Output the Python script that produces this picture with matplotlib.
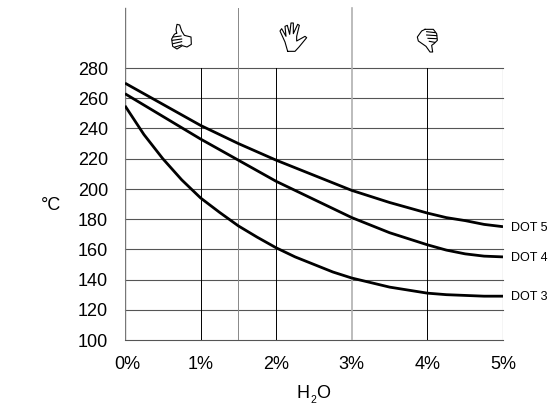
import matplotlib
matplotlib.use("Agg")
import matplotlib.pyplot as plt

plt.rcParams['font.family'] = ['Liberation Sans', 'DejaVu Sans']

water = [0, 0.25, 0.5, 0.75, 1, 1.25, 1.5, 1.75, 2, 2.25, 2.5, 2.75, 3, 3.25, 3.5, 3.75, 4, 4.25, 4.5, 4.75, 5]
dot3 = [255, 236, 220, 206, 194, 184.5, 175.5, 168, 161, 155, 150, 145, 141, 138, 135, 133, 131, 130, 129.5, 129, 129]
dot4 = [263, 255.5, 248, 240.5, 233, 226, 219, 212, 205, 199, 193, 187, 181, 176, 171, 167, 163, 159.5, 157, 155.5, 155]
dot5 = [270, 263, 256, 249, 242, 236, 230, 224.5, 219, 214, 209, 204, 199, 195, 191, 187.5, 184, 181, 179, 176.5, 175]
curveNames = ['DOT 3', 'DOT 4', 'DOT 5']
yTicks = [100, 120, 140, 160, 180, 200, 220, 240, 260, 280]
xTicks = [0, 1, 2, 3, 4, 5]

thumbUp = [(35, 48), (33, 38), (36, 22), (44, 24), (50, 42), (58, 55), (78, 60), (79, 82), (66, 90), (52, 86),
           (36, 96), (23, 88), (20, 66), (28, 52), (35, 48)]
thumbUpLines = [[(24, 60), (48, 57)], [(22, 70), (50, 66)], [(24, 80), (50, 74)], [(30, 90), (50, 84)]]
openHand = [(38, 103), (30, 75), (15, 42), (20, 35), (33, 58), (30, 28), (37, 25), (44, 52), (48, 18), (55, 18),
            (55, 50), (68, 22), (73, 25), (65, 58), (65, 72), (90, 58), (95, 62), (72, 90), (60, 103), (38, 103)]
thumbDown = [(45, 37), (70, 37), (80, 50), (82, 70), (72, 80), (65, 85), (68, 105), (60, 105), (48, 88), (25, 72),
             (22, 60), (35, 42), (45, 37)]
thumbDownLines = [[(50, 44), (76, 47)], [(50, 54), (80, 56)], [(54, 64), (80, 65)], [(58, 73), (74, 76)]]

W, H = 553, 406
fig = plt.figure(figsize=(W / 100, H / 100), dpi=100)
ax = fig.add_axes([125 / W, 1 - 341 / H, (503 - 125) / W, (341 - 8) / H])
ax.set_xlim(0, 5)
ax.set_ylim(100, 100 + 333 / 1.511)
ax.axis('off')

for y in yTicks:
    ax.plot([0, 5], [y, y], color='#555555', lw=0.8, clip_on=False)
    ax.text(-0.225, y - 0.8, str(y), ha='right', va='center', fontsize=13)
for x in xTicks:
    ax.text(x + (0.03 if x == 0 else 0), 90, '%d%%' % x, ha='center', va='top', fontsize=13)
for x in [1, 2, 4]:
    ax.plot([x, x], [100, 280], color='black', lw=0.7)
ax.plot([5, 5], [100, 280], color='#555555', lw=0.8)
ax.plot([0, 0], [100, 320], color='#777777', lw=1.0)
ax.plot([1.5, 1.5], [100, 320], color='#888888', lw=0.7)
ax.plot([3, 3], [100, 320], color='#b0b0b0', lw=1.2)

for vals, name in zip([dot3, dot4, dot5], curveNames):
    ax.plot(water, vals, color='black', lw=2.0, solid_capstyle='butt')
    ax.text(5.105, vals[-1], name, ha='left', va='center', fontsize=9)

fig.text(61 / W, 1 - 206 / H, '°C', ha='right', va='center', fontsize=13)
fig.text(297 / W, 1 - 394 / H, 'H', ha='left', va='center', fontsize=13)
fig.text(310.5 / W, 1 - 400.5 / H, '2', ha='left', va='center', fontsize=7.5)
fig.text(316 / W, 1 - 394 / H, 'O', ha='left', va='center', fontsize=13)

# overlay in pixel coordinates for the three hand icons
overlay = fig.add_axes([0, 0, 1, 1])
overlay.set_xlim(0, W)
overlay.set_ylim(H, 0)
overlay.axis('off')


def drawIcon(points, cropX, cropY):
    xs = [cropX + p[0] / 3 for p in points]
    ys = [cropY + p[1] / 3 for p in points]
    overlay.plot(xs, ys, color='black', lw=0.8)


drawIcon(thumbUp, 165, 18)
for line in thumbUpLines:
    drawIcon(line, 165, 18)
drawIcon(openHand, 275, 18)
drawIcon(thumbDown, 410, 18)
for line in thumbDownLines:
    drawIcon(line, 410, 18)

fig.savefig('out.png', dpi=100)
